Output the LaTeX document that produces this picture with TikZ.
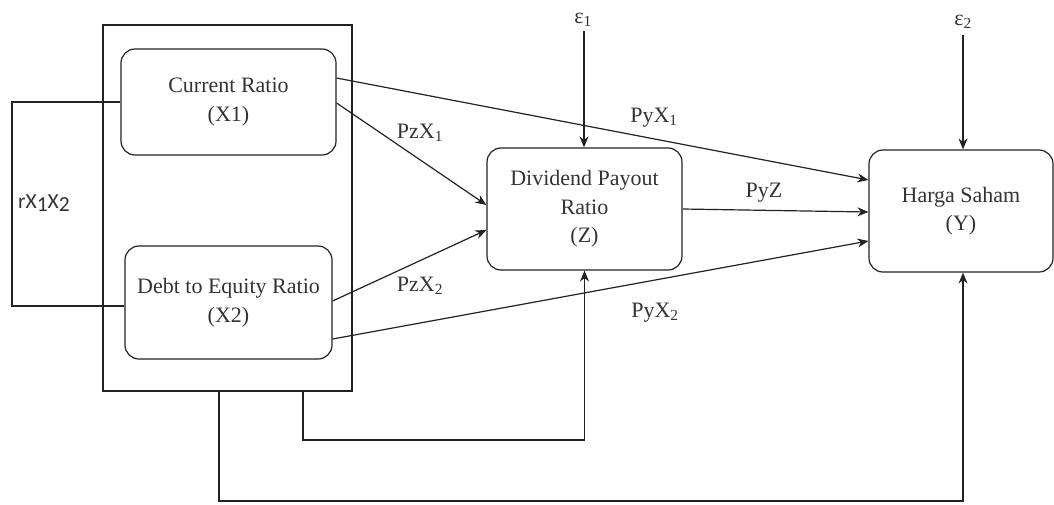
\documentclass[tikz,border=0pt]{standalone}
\usepackage{fontspec}
\setmainfont{Liberation Serif}
\newfontfamily\carlito{Carlito}
\usetikzlibrary{arrows.meta}
\definecolor{ink}{HTML}{222222}
\definecolor{txt}{HTML}{333333}
\tikzset{
  box/.style={draw=ink, rounded corners=14pt, line width=1.2pt, align=center, text=txt, inner sep=0pt},
  grpbox/.style={draw=ink, line width=1.2pt, inner sep=0pt},
  lbl/.style={text=txt, inner sep=0pt},
  conn/.style={draw=ink, line width=1.2pt},
  arr/.style={conn, -{Stealth[length=11pt,width=9pt]}},
}
\begin{document}
\begin{tikzpicture}[x=1pt,y=-1pt, font=\fontsize{22}{28.5}\selectfont]
\useasboundingbox (0,0) rectangle (1054,504);
% group rectangle
\node[grpbox, minimum width=249pt, minimum height=366pt] (grp) at (227.5,208) {};
% boxes
\node[box, minimum width=215pt, minimum height=106pt] (x1) at (228.5,102) {Current Ratio\\(X1)};
\node[box, minimum width=207pt, minimum height=113pt] (x2) at (228.5,302.5) {Debt to Equity Ratio\\(X2)};
\node[box, minimum width=195pt, minimum height=122pt] (z) at (584.5,209) {Dividend Payout\\Ratio\\(Z)};
\node[box, minimum width=184pt, minimum height=122pt] (y) at (961,211) {Harga Saham\\(Y)};
% errors
\node[lbl] (e1) at (583,20) {ε\textsubscript{1}};
\node[lbl] (e2) at (963,22) {ε\textsubscript{2}};
\coordinate (e1c) at (584,31);
\coordinate (e2c) at (963,35);
\draw[arr] (e1c) -- (e1c |- z.north);
\draw[arr] (e2c) -- (e2c |- y.north);
% correlation bracket
\coordinate (l) at (12,0);
\draw[conn] (x1.west) -- (x1.west -| l) -- ([yshift=-3.5pt]x2.west -| l) -- ([yshift=-3.5pt]x2.west);
\node[lbl] (r) at (44,203) {\carlito\fontsize{21.5}{24}\selectfont rX\raisebox{-0.35ex}{1}X\raisebox{-0.35ex}{2}};
% paths
\draw[arr] ([yshift=24pt]x1.east) -- ([yshift=31pt]y.west);
\draw[arr] ([yshift=-1pt]x1.east) -- ([yshift=4pt]z.west);
\draw[arr] ([yshift=1.5pt]x2.east) -- ([yshift=-21pt]z.west);
\draw[arr] ([yshift=-36.5pt]x2.east) -- ([yshift=-30pt]y.west);
\draw[arr] (z.east) -- ([yshift=-1pt]y.west);
% path labels
\node[lbl] (pyx1) at (654,118) {PyX\textsubscript{1}};
\node[lbl] (pzx1) at (420,133) {PzX\textsubscript{1}};
\node[lbl] (pzx2) at (420,286) {PzX\textsubscript{2}};
\node[lbl] (pyx2) at (655,313) {PyX\textsubscript{2}};
\node[lbl] (pyz) at (764,193) {PyZ};
% bottom connectors
\coordinate (b1) at (303,440);
\coordinate (b2) at (219,501);
\draw[arr] (b1 |- grp.south) -- (b1) -- (b1 -| z.south) -- (z.south);
\draw[arr] (b2 |- grp.south) -- (b2) -- (b2 -| e2c) -- (e2c |- y.south);
\end{tikzpicture}
\end{document}
